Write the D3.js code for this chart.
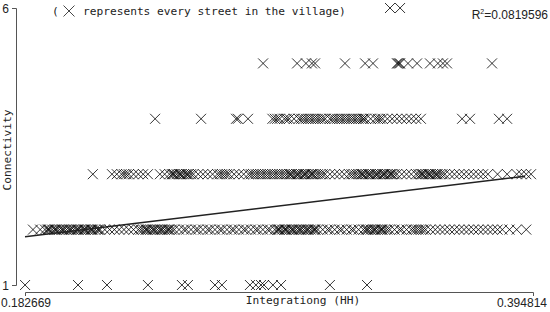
<!DOCTYPE html>
<html><head><meta charset="utf-8">
<script src="https://cdn.jsdelivr.net/npm/d3@7"></script>
<style>
body{margin:0;background:#fff;}
svg{display:block;}
</style></head>
<body>
<svg id="chart" width="550" height="312"></svg>
<script>
// ---- data ----
const xDomain = [0.182669, 0.394814];
const yDomain = [1, 6];
const xTickLabels = ["0.182669", "0.394814"];
const yTickLabels = ["1", "6"];
const xTitle = "Integrationg (HH)";
const yTitle = "Connectivity";
const legendText = "represents every street in the village)";
const rSquared = "0.0819596";
const regSlope = 5.225;
const regIntercept = 0.918;
const regRange = [0.182669, 0.3915];

const conn1 = [0.1827,0.2048,0.2169,0.2340,0.2482,0.2507,0.2620,0.2649,0.2766,0.2791,0.2812,0.2825,0.2862,0.2896,0.3100,0.3255];
const conn2 = [0.186,0.189,0.191,0.192,0.193,0.194,0.195,0.196,0.197,0.198,0.199,0.200,0.201,0.202,0.203,0.204,0.205,0.206,0.207,0.208,0.209,0.210,0.211,0.212,0.213,0.214,
  0.1925,0.1955,0.1985,0.2015,0.2045,0.2075,0.2105,0.2135,
  0.216,0.218,0.220,0.222,0.224,0.226,0.228,0.230,
  0.231,0.232,0.233,0.234,0.235,0.236,0.237,0.238,0.239,0.240,0.241,0.242,0.243,0.244,0.245,
  0.2335,0.2365,0.2395,0.2425,
  0.247,0.249,0.250,0.252,0.254,0.255,0.257,0.259,0.260,0.262,0.264,0.265,0.267,0.269,0.270,0.272,0.274,0.275,0.277,0.279,0.280,0.282,0.284,0.285,0.287,
  0.288,0.289,0.290,0.291,0.292,0.293,0.294,0.295,0.296,0.297,0.298,0.299,0.300,0.301,0.302,0.303,0.304,0.305,
  0.2885,0.2915,0.2945,0.2975,0.3005,0.3035,
  0.307,0.309,0.310,0.312,0.314,0.315,0.317,0.319,0.320,0.322,0.324,
  0.325,0.326,0.327,0.328,0.329,0.330,0.331,0.332,0.333,0.334,0.335,
  0.3255,0.3285,0.3315,
  0.337,0.339,0.340,0.342,0.344,0.345,0.346,0.347,0.348,0.349,0.350,0.352,0.354,0.356,0.358,0.360,0.362,0.364,0.366,0.368,0.370,0.372,0.374,0.376,0.378,0.380,0.382,
  0.385,0.388,0.392];
const conn3 = [0.211,
  0.219,0.221,0.223,0.224,0.225,0.226,0.228,0.230,0.232,0.234,
  0.239,0.241,0.243,0.244,0.245,0.246,0.247,0.248,0.249,0.250,0.251,0.252,0.253,0.255,0.257,0.259,0.261,0.263,0.264,0.265,0.266,0.267,0.268,0.270,
  0.2445,0.2475,0.2505,
  0.272,0.274,0.276,0.277,0.278,0.279,0.280,0.281,0.282,0.283,0.284,0.285,0.286,0.287,0.288,0.289,0.290,0.291,0.292,0.293,0.294,0.295,0.296,0.297,0.298,0.299,0.300,0.301,0.302,0.303,0.304,0.305,0.306,0.307,0.308,
  0.2935,0.2965,0.2995,0.3025,
  0.310,0.312,0.314,0.316,0.318,0.319,0.320,0.321,0.322,0.323,0.324,0.325,0.326,0.327,0.328,0.329,0.330,0.331,0.332,0.333,0.334,0.335,0.336,0.337,0.338,
  0.3235,0.3265,0.3295,0.3325,0.3355,
  0.340,0.342,0.344,0.346,0.347,0.348,0.349,0.350,0.351,0.352,0.353,0.354,0.355,0.356,0.357,0.358,0.360,0.362,0.364,0.366,0.368,0.370,0.372,0.374,0.376,
  0.3485,0.3515,0.3545,
  0.380,0.384,0.388,0.390,0.392,0.394];
const conn4 = [0.2370,0.2562,0.2708,0.2716,0.2758,
  0.286,0.287,0.288,0.289,0.291,0.292,0.293,0.295,0.297,0.298,0.299,0.300,0.301,0.302,0.303,0.304,0.305,0.306,0.307,0.308,0.310,0.311,0.312,0.313,0.314,0.315,0.316,0.317,0.318,0.319,0.320,0.321,0.322,0.323,0.324,0.324,0.325,0.327,0.329,0.330,0.331,0.332,0.334,0.336,0.338,0.340,0.342,0.344,0.346,0.348,
  0.3652,0.3685,0.3806,0.3840];
const conn5 = [0.2821,0.2963,0.3000,0.3025,0.3038,0.3163,0.3247,0.3280,0.3380,0.3384,0.3389,0.3393,0.3426,0.3464,0.3518,0.3551,0.3572,0.3589,0.3777];
const conn6 = [0.3351,0.3393];

const rows = [conn1, conn2, conn3, conn4, conn5, conn6];
const points = [];
rows.forEach((arr, i) => arr.forEach(v => points.push({x: v, y: i + 1})));

// ---- drawing ----
const svg = d3.select("#chart");
const x = d3.scaleLinear().domain(xDomain).range([25, 533]);
const y = d3.scaleLinear().domain(yDomain).range([285, 8]);
const monoFont = "'DejaVu Sans Mono', monospace";
const numFont = "'Liberation Sans', Arial, sans-serif";
const axisColor = "#555";
const ms = 5;
const xPath = (cx, cy, s) => `M${cx - s},${cy - s}L${cx + s},${cy + s}M${cx - s},${cy + s}L${cx + s},${cy - s}`;

// y axis
const yAxis = svg.append("g").attr("transform", "translate(16,0)")
  .call(d3.axisLeft(y).tickValues([]).tickSizeOuter(4));
yAxis.select(".domain").attr("stroke", axisColor);
svg.selectAll(".ylab").data(yDomain).join("text")
  .attr("x", 9).attr("y", d => y(d) + 4.5)
  .attr("text-anchor", "end").attr("font-family", numFont).attr("font-size", 12)
  .attr("fill", "#222").text((d, i) => yTickLabels[i]);

// x axis
const xAxis = svg.append("g").attr("transform", "translate(0,292)")
  .call(d3.axisBottom(x).tickValues([]).tickSizeOuter(4));
xAxis.select(".domain").attr("stroke", axisColor);
svg.append("text").attr("x", x(xDomain[0]) + 1).attr("y", 307)
  .attr("text-anchor", "middle").attr("font-family", numFont).attr("font-size", 12)
  .attr("fill", "#222").text(xTickLabels[0]);
svg.append("text").attr("x", 547).attr("y", 307)
  .attr("text-anchor", "end").attr("font-family", numFont).attr("font-size", 12)
  .attr("fill", "#222").text(xTickLabels[1]);

// axis titles
svg.append("text").attr("x", 303).attr("y", 304)
  .attr("text-anchor", "middle").attr("font-family", monoFont).attr("font-size", 11.2)
  .attr("fill", "#222").text(xTitle);
svg.append("text").attr("transform", "translate(11,150) rotate(-90)")
  .attr("text-anchor", "middle").attr("font-family", monoFont).attr("font-size", 11.2)
  .attr("fill", "#222").text(yTitle);

// legend note
svg.append("text").attr("x", 52).attr("y", 15).attr("font-family", monoFont)
  .attr("font-size", 11.2).attr("fill", "#222").text("(");
svg.append("path").attr("d", xPath(69, 11, 5.5)).attr("stroke", "#333").attr("stroke-width", 0.9).attr("fill", "none");
svg.append("text").attr("x", 83).attr("y", 15).attr("font-family", monoFont)
  .attr("font-size", 11.2).attr("fill", "#222").text(legendText);

// R^2
const rt = svg.append("text").attr("x", 548).attr("y", 19).attr("text-anchor", "end")
  .attr("font-family", numFont).attr("font-size", 12).attr("fill", "#222");
rt.append("tspan").text("R");
rt.append("tspan").attr("dy", -5).attr("font-size", 7).text("2");
rt.append("tspan").attr("dy", 5).text("=" + rSquared);

// markers
svg.append("g").selectAll("path").data(points).join("path")
  .attr("d", d => xPath(x(d.x), y(d.y), ms))
  .attr("stroke", "#000").attr("stroke-width", 0.8).attr("fill", "none");

// regression line
svg.append("line")
  .attr("x1", x(regRange[0])).attr("y1", y(regIntercept + regSlope * regRange[0]))
  .attr("x2", x(regRange[1])).attr("y2", y(regIntercept + regSlope * regRange[1]))
  .attr("stroke", "#222").attr("stroke-width", 1.5);
</script>
</body></html>
